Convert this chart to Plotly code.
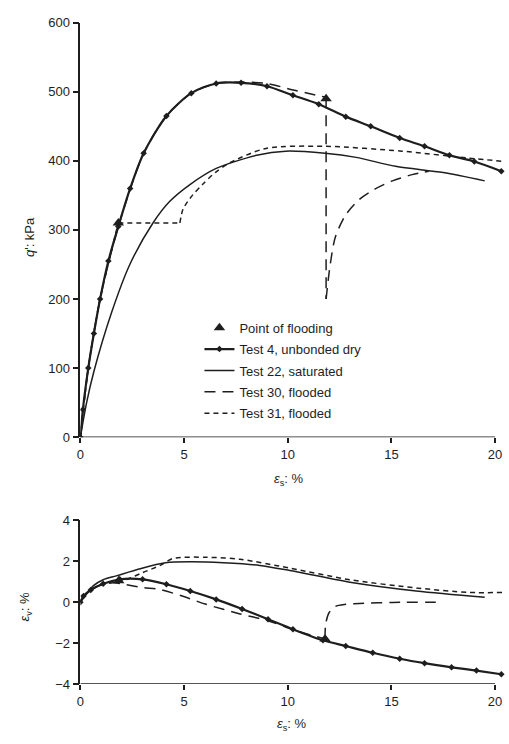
import plotly.graph_objects as go

# ---------------- data ----------------
# Upper plot: deviator stress q' (kPa) vs shear strain eps_s (%)
t4_es = [0, 0.12, 0.38, 0.65, 0.95, 1.35, 1.83, 2.4, 3.05, 4.15, 5.35, 6.55, 7.75, 9.0, 10.25, 11.5, 12.8, 14.0, 15.4, 16.6, 17.8, 19.0, 20.3]
t4_q = [0, 40, 100, 150, 200, 255, 305, 360, 411, 465, 498, 512, 513, 508, 495, 482, 464, 450, 433, 421, 408, 399, 385]

t22_es = [0, 0.3, 0.65, 1.5, 2.4, 3.5, 4.3, 5.3, 6.55, 8.5, 9.9, 11.8, 13.3, 15.2, 17.5, 19.5]
t22_q = [0, 50, 95, 180, 251, 310, 341, 366, 389, 408, 414, 411, 405, 392, 383, 371]

t30_es_pre = [0, 0.38, 0.95, 1.83, 3.05, 4.15, 5.35, 6.55, 7.75, 9.0, 10.2, 11.85]
t30_q_pre = [0, 100, 200, 305, 411, 465, 498, 512, 514, 512, 503, 492]
t30_es_drop = [11.85, 11.85]
t30_q_drop = [492, 200]
t30_es_post = [11.85, 12.05, 12.3, 12.8, 13.45, 14.2, 15.05, 16.0, 16.8]
t30_q_post = [200, 250, 290, 322, 344, 359, 371, 380, 385]

t31_es_pre = [0, 0.38, 0.95, 1.83]
t31_q_pre = [0, 100, 200, 310]
t31_es_hold = [1.83, 4.8]
t31_q_hold = [310, 310]
t31_es_post = [4.8, 4.95, 5.4, 5.9, 6.5, 7.2, 8.95, 11.8, 15.5, 18.7, 20.5]
t31_q_post = [310, 330, 350, 366, 383, 397, 418, 421, 414, 404, 399]

flood_es = [1.83, 11.85]
flood_q = [310, 490]

# Lower plot: volumetric strain eps_v (%) vs shear strain eps_s (%)
t4v_es = [0, 0.15, 0.5, 1.1, 1.9, 3.0, 4.15, 5.3, 6.55, 7.8, 9.05, 10.25, 11.7, 12.8, 14.1, 15.4, 16.6, 17.9, 19.1, 20.3]
t4v_ev = [0, 0.3, 0.6, 0.9, 1.12, 1.12, 0.88, 0.55, 0.14, -0.33, -0.83, -1.32, -1.86, -2.14, -2.47, -2.76, -2.98, -3.18, -3.34, -3.52]

t22v_es = [0, 0.3, 0.63, 1.1, 1.73, 2.88, 4.1, 5.3, 6.9, 8.65, 10.1, 13.0, 16.2, 19.5]
t22v_ev = [0, 0.4, 0.81, 1.1, 1.29, 1.64, 1.93, 1.98, 1.93, 1.8, 1.55, 0.98, 0.55, 0.24]

t30v_es_pre = [0, 0.15, 0.5, 1.1, 1.6, 2.2, 3.0, 3.85, 4.95, 6.06, 7.7, 9.05, 10.25, 11.8]
t30v_ev_pre = [0, 0.3, 0.6, 0.88, 0.95, 0.86, 0.72, 0.62, 0.29, -0.1, -0.57, -0.9, -1.34, -1.8]
t30v_es_post = [11.8, 11.83, 12.0, 12.3, 12.8, 13.45, 15.05, 17.45]
t30v_ev_post = [-1.8, -1.06, -0.5, -0.2, -0.1, -0.06, -0.01, 0.0]

t31v_es = [0, 0.15, 0.5, 1.1, 1.83, 2.2, 3.0, 3.85, 4.47, 6.06, 7.7, 10.1, 13.0, 16.2, 18.75, 20.4]
t31v_ev = [0, 0.3, 0.6, 0.9, 1.05, 1.1, 1.45, 1.8, 2.14, 2.2, 2.1, 1.67, 1.1, 0.7, 0.48, 0.48]

floodv_es = [1.85, 11.8]
floodv_ev = [1.05, -1.8]

q_ticks = [0, 100, 200, 300, 400, 500, 600]
ev_ticks = [-4, -2, 0, 2, 4]
es_ticks = [0, 5, 10, 15, 20]

# ---------------- styling ----------------
INK = "#1e1e1e"
FONT = "Liberation Sans"
W4, W22, WD = 2.2, 1.5, 1.5
DASH30 = "11px,7px"
DASH31 = "5px,4px"

fig = go.Figure()

def line(x, y, name, width, dash="solid", xa="x", ya="y", legend=False, group=None,
         markers=False, smooth=True):
    fig.add_trace(go.Scatter(
        x=x, y=y, name=name, xaxis=xa, yaxis=ya,
        mode="lines+markers" if markers else "lines",
        line=dict(color=INK, width=width, dash=dash,
                  shape="spline" if smooth else "linear", smoothing=0.8),
        marker=dict(symbol="diamond", size=5, color=INK),
        showlegend=legend, legendgroup=group or name,
    ))

# legend order: flooding, Test 4, Test 22, Test 30, Test 31
fig.add_trace(go.Scatter(x=flood_es, y=flood_q, mode="markers", name="Point of flooding",
                         marker=dict(symbol="triangle-up", size=10, color=INK),
                         legendgroup="flood", showlegend=True))
line(t4_es, t4_q, "Test 4, unbonded dry", W4, markers=True, legend=True)
line(t22_es, t22_q, "Test 22, saturated", W22, legend=True)
line(t30_es_pre, t30_q_pre, "Test 30, flooded", WD, DASH30, legend=True, group="t30")
line(t30_es_drop, t30_q_drop, "Test 30, flooded", WD, DASH30, group="t30", smooth=False)
line(t30_es_post, t30_q_post, "Test 30, flooded", WD, DASH30, group="t30")
line(t31_es_pre, t31_q_pre, "Test 31, flooded", WD, DASH31, legend=True, group="t31")
line(t31_es_hold, t31_q_hold, "Test 31, flooded", WD, DASH31, group="t31", smooth=False)
line(t31_es_post, t31_q_post, "Test 31, flooded", WD, DASH31, group="t31")

# lower plot
line(t4v_es, t4v_ev, "Test 4, unbonded dry", W4, xa="x2", ya="y2", markers=True)
line(t22v_es, t22v_ev, "Test 22, saturated", W22, xa="x2", ya="y2")
line(t30v_es_pre, t30v_ev_pre, "Test 30, flooded", WD, DASH30, xa="x2", ya="y2", group="t30")
line(t30v_es_post, t30v_ev_post, "Test 30, flooded", WD, DASH30, xa="x2", ya="y2", group="t30")
line(t31v_es, t31v_ev, "Test 31, flooded", WD, DASH31, xa="x2", ya="y2", group="t31")
fig.add_trace(go.Scatter(x=floodv_es, y=floodv_ev, mode="markers", xaxis="x2", yaxis="y2",
                         marker=dict(symbol="triangle-up", size=10, color=INK),
                         legendgroup="flood", showlegend=False))

FW, FH = 509, 744
XD = [77 / FW, 507.5 / FW]
XR = [0, 20.6]

tickfont = dict(family=FONT, size=13, color=INK)
common_x = dict(range=XR, tickvals=es_ticks, ticks="outside", ticklen=5, tickwidth=1.5,
                tickcolor=INK, showline=False, showgrid=False, zeroline=False,
                tickfont=tickfont, domain=XD, ticklabeloverflow="allow")
common_y = dict(ticks="outside", ticklen=6, tickwidth=1.5, tickcolor=INK, showline=True,
                linecolor=INK, linewidth=1.5, showgrid=False, zeroline=False, tickfont=tickfont)

ann_font = dict(family=FONT, size=13, color=INK)

fig.update_layout(
    width=FW, height=FH,
    margin=dict(l=0, r=0, t=0, b=0),
    paper_bgcolor="white", plot_bgcolor="white",
    font=dict(family=FONT, color=INK, size=13),
    xaxis=dict(**common_x, anchor="y"),
    yaxis=dict(**common_y, range=[0, 600], tickvals=q_ticks,
               domain=[1 - 439 / FH, 1 - 16 / FH], anchor="x"),
    xaxis2=dict(**common_x, anchor="y2"),
    yaxis2=dict(**common_y, range=[-4, 4], tickvals=ev_ticks,
                domain=[1 - 691 / FH, 1 - 524 / FH], anchor="x2"),
    legend=dict(x=197 / FW, y=1 - 312 / FH, xanchor="left", yanchor="top",
                bgcolor="rgba(0,0,0,0)", font=dict(family=FONT, size=13, color=INK),
                tracegroupgap=1.5, itemwidth=30),
    showlegend=True,
    shapes=[
        dict(type="line", xref="x", yref="y", x0=0, x1=20, y0=0, y1=0,
             line=dict(color=INK, width=1.5)),
        dict(type="line", xref="x2", yref="y2", x0=0, x1=20, y0=-4, y1=-4,
             line=dict(color=INK, width=1.5)),
    ],
    annotations=[
        dict(text="<i>q</i>': kPa", xref="paper", yref="paper", x=25 / FW, y=1 - 235 / FH,
             xanchor="center", yanchor="middle",
             textangle=-90, showarrow=False, font=ann_font),
        dict(text="<i>ε</i><sub>s</sub>: %", xref="paper", yref="paper", x=287 / FW, y=1 - 482 / FH,
             xanchor="center", yanchor="middle", showarrow=False, font=ann_font),
        dict(text="<i>ε</i><sub>v</sub>: %", xref="paper", yref="paper", x=22 / FW, y=1 - 612 / FH,
             xanchor="center", yanchor="middle",
             textangle=-90, showarrow=False, font=ann_font),
        dict(text="<i>ε</i><sub>s</sub>: %", xref="paper", yref="paper", x=290 / FW, y=1 - 732 / FH,
             xanchor="center", yanchor="middle", showarrow=False, font=ann_font),
    ],
)

fig.write_html("out.html", config={"displayModeBar": False},
               post_script="document.body.style.margin='0';document.body.style.overflow='hidden';")
